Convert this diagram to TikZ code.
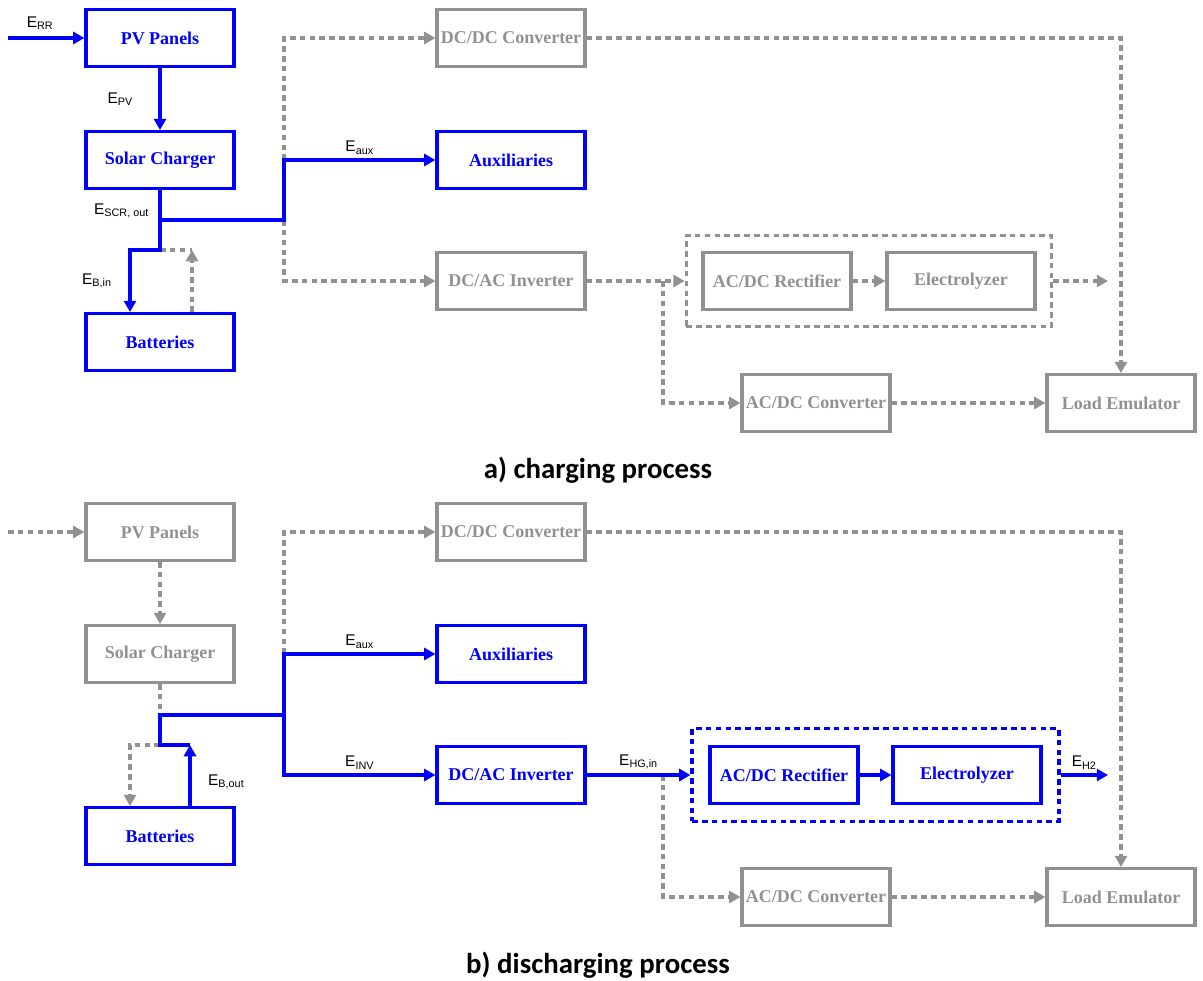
\documentclass[tikz,border=0pt]{standalone}
\usepackage{fontspec}
\setmainfont{Liberation Serif}
\newfontfamily\labelfont{Liberation Sans}
\newfontfamily\titlefont{Carlito}
\usetikzlibrary{positioning,fit,calc,arrows.meta}
\definecolor{flowblue}{RGB}{0,0,255}
\definecolor{flowgray}{RGB}{145,145,145}
\tikzset{
  unit/.style={draw, line width=2.2pt, minimum width=3.7cm, minimum height=1.42cm,
    font=\fontsize{12.8}{14}\selectfont\bfseries, inner sep=2pt},
  onunit/.style={unit, draw=flowblue, text=flowblue},
  offunit/.style={unit, draw=flowgray, text=flowgray},
  bline/.style={draw=flowblue, line width=2.2pt},
  gline/.style={draw=flowgray, line width=2.2pt, dash pattern=on 4pt off 3pt},
  bdash/.style={bline, dash pattern=on 4pt off 3pt},
  elabel/.style={font=\labelfont\fontsize{11}{13}\selectfont, inner sep=1pt},
  caption/.style={font=\titlefont\fontsize{20.5}{24}\selectfont\bfseries},
}

\begin{document}
\begin{tikzpicture}[x=0.025cm, y=-0.025cm, >={Triangle[length=8pt,width=8.5pt]}]
\useasboundingbox (0,0) rectangle (1203,980);

% a) charging process
\node[onunit] (pva) at (160,38) {PV Panels};
\node[onunit] (sca) at (160,160) {Solar Charger};
\node[onunit] (bata) at (160,342) {Batteries};
\node[offunit] (dcdca) at (511,38) {DC/DC Converter};
\node[onunit] (auxa) at (511,160) {Auxiliaries};
\node[offunit] (inva) at (511,281) {DC/AC Inverter};
\node[offunit] (recta) at (777,281) {AC/DC Rectifier};
\node[offunit] (eleca) at (961,281) {Electrolyzer};
\node[gline, fit=(recta)(eleca), inner sep=0.38cm] (grpa) {};
\node[offunit] (acdca) at (816,403) {AC/DC Converter};
\node[offunit] (loada) at (1121,403) {Load Emulator};
\node[caption] (capa) at (598,470) {a) charging process};

\coordinate (erra) at (8,38);
\coordinate (ja) at (160,220);
\coordinate (jb) at (160,250);
\coordinate (jc) at (192,250);
\coordinate (busa) at (284,220);
\coordinate (fa) at (663,281);
\coordinate (outa) at (1108,281);

\draw[gline,->] (busa |- auxa) |- (dcdca);
\draw[gline,->] (busa) |- (inva);
\draw[gline] (jb) -- (jc);
\draw[gline,->] ($(bata.north)+(32,0)$) -- (jc);
\draw[gline,->] (dcdca) -| (loada);
\draw[gline,->] (inva) -- (inva -| grpa.west);
\draw[gline,->] (fa) |- (acdca);
\draw[gline,->] (recta) -- (eleca);
\draw[gline,->] (grpa.east) -- (outa);
\draw[gline,->] (acdca) -- (loada);

\draw[bline,->] (erra) -- (pva) node[elabel,pos=0.42,above=4pt] {E\textsubscript{RR}};
\draw[bline,->] (pva) -- (sca) node[elabel,midway,left=0.6cm] {E\textsubscript{PV}};
\draw[bline] (sca) -- (ja) node[elabel,pos=0.7,left=0.2cm] {E\textsubscript{SCR, out}};
\draw[bline,->] (ja) -- (busa) |- (auxa) node[elabel,pos=0.75,above=2pt] {E\textsubscript{aux}};
\draw[bline,->] (ja) -- (jb) -| ($(bata.north)+(-30,0)$) node[elabel,pos=0.75,left=0.38cm] {E\textsubscript{B,in}};

% b) discharging process
\node[offunit] (pvb) at (160,532) {PV Panels};
\node[offunit] (scb) at (160,654) {Solar Charger};
\node[onunit] (batb) at (160,836) {Batteries};
\node[offunit] (dcdcb) at (511,532) {DC/DC Converter};
\node[onunit] (auxb) at (511,654) {Auxiliaries};
\node[onunit] (invb) at (511,775) {DC/AC Inverter};
\node[onunit] (rectb) at (784,775) {AC/DC Rectifier};
\node[onunit] (elecb) at (967,775) {Electrolyzer};
\node[bdash, fit=(rectb)(elecb), inner sep=0.41cm] (grpb) {};
\node[offunit] (acdcb) at (816,897) {AC/DC Converter};
\node[offunit] (loadb) at (1121,897) {Load Emulator};
\node[caption] (capb) at (598,965) {b) discharging process};

\coordinate (errb) at (8,532);
\coordinate (jd) at (160,715);
\coordinate (je) at (160,745);
\coordinate (jf) at (190,745);
\coordinate (busb) at (284,715);
\coordinate (fb) at (663,775);
\coordinate (outb) at (1108,775);

\draw[gline,->] (errb) -- (pvb);
\draw[gline,->] (pvb) -- (scb);
\draw[gline] (scb) -- (jd);
\draw[gline,->] (je) -| ($(batb.north)+(-30,0)$);
\draw[gline,->] (busb |- auxb) |- (dcdcb);
\draw[gline,->] (dcdcb) -| (loadb);
\draw[gline,->] (fb) |- (acdcb);
\draw[gline,->] (acdcb) -- (loadb);

\draw[bline,->] ($(batb.north)+(30,0)$) -- (jf) node[elabel,pos=0.4,right=0.38cm] {E\textsubscript{B,out}};
\draw[bline] (jf) -- (je) -- (jd) -- (busb);
\draw[bline,->] (busb) |- (auxb) node[elabel,pos=0.75,above=2pt] {E\textsubscript{aux}};
\draw[bline,->] (busb) |- (invb) node[elabel,pos=0.75,above=2pt] {E\textsubscript{INV}};
\draw[bline,->] (invb) -- (invb -| grpb.west) node[elabel,midway,above=2pt] {E\textsubscript{HG,in}};
\draw[bline,->] (rectb) -- (elecb);
\draw[bline,->] (grpb.east) -- (outb) node[elabel,midway,above=2pt] {E\textsubscript{H2}};
\end{tikzpicture}
\end{document}
